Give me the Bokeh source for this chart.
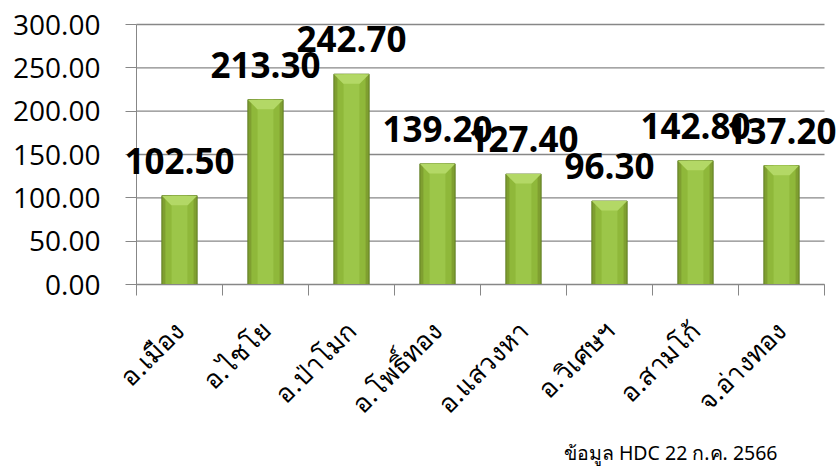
import math
import numpy as np
from bokeh.plotting import figure
from bokeh.models import (FixedTicker, NumeralTickFormatter, LabelSet, ColumnDataSource,
                          Label, Range1d)
from bokeh.core.properties import value
from bokeh.embed import file_html
from bokeh.resources import INLINE

districts = ["อ.เมือง", "อ.ไชโย", "อ.ป่าโมก", "อ.โพธิ์ทอง", "อ.แสวงหา", "อ.วิเศษฯ", "อ.สามโก้", "จ.อ่างทอง"]
values = [102.50, 213.30, 242.70, 139.20, 127.40, 96.30, 142.80, 137.20]
y_ticks = [0, 50, 100, 150, 200, 250, 300]
footnote = "ข้อมูล HDC 22 ก.ค. 2566"

n = len(districts)
centers = [i + 0.5 for i in range(n)]
labels = [f"{v:.2f}" for v in values]
y_max = y_ticks[-1]

# layout constants (pixels); the frame fills the whole canvas and the axes are pinned inside it
W, H = 839, 475
axis_px = 136          # x pixel of the value axis
cat_px = 86            # width of one category
top_px = 24            # y pixel of the top gridline
zero_px = 284          # y pixel of the zero line
ppu = (zero_px - top_px) / y_max

x_start = -axis_px / cat_px
x_end = (W - axis_px) / cat_px
y_start = -(H - zero_px) / ppu
y_end = y_max + top_px / ppu

p = figure(width=W, height=H, x_range=Range1d(x_start, x_end), y_range=Range1d(y_start, y_end),
           output_backend="svg", toolbar_location=None,
           min_border_left=0, min_border_right=0, min_border_top=0, min_border_bottom=0)
p.outline_line_color = None
p.background_fill_color = "white"
p.border_fill_color = "white"

grid_col = "#878787"

# y axis
p.yaxis.fixed_location = 0
p.yaxis.bounds = (0, y_max)
p.yaxis.ticker = FixedTicker(ticks=y_ticks)
p.yaxis.formatter = NumeralTickFormatter(format="0.00")
p.yaxis.major_label_text_font = "Open Sans"
p.yaxis.major_label_text_font_size = "28px"
p.yaxis.major_label_text_color = "black"
p.yaxis.axis_line_color = grid_col
p.yaxis.major_tick_line_color = grid_col
p.yaxis.major_tick_out = 11
p.yaxis.major_tick_in = 0
p.yaxis.minor_tick_line_color = None
p.yaxis.major_label_standoff = 25

# horizontal gridlines only across the category area
p.ygrid.visible = False
p.xgrid.visible = False
p.segment(x0=[0] * len(y_ticks), x1=[n] * len(y_ticks), y0=y_ticks, y1=y_ticks,
          line_color=grid_col, line_width=1.3, level="underlay")

# x axis
p.xaxis.fixed_location = 0
p.xaxis.bounds = (0, n)
p.xaxis.ticker = FixedTicker(ticks=centers, minor_ticks=list(range(n + 1)))
p.xaxis.major_label_overrides = {c: d for c, d in zip(centers, districts)}
p.xaxis.major_label_orientation = math.pi / 4
p.xaxis.major_label_text_font = "Noto Sans"
p.xaxis.major_label_text_font_size = "26px"
p.xaxis.major_label_text_color = "black"
p.xaxis.major_tick_line_color = None
p.xaxis.major_tick_out = 0
p.xaxis.major_tick_in = 0
p.xaxis.minor_tick_line_color = grid_col
p.xaxis.minor_tick_out = 11
p.xaxis.minor_tick_in = 0
p.xaxis.axis_line_color = grid_col
p.xaxis.major_label_standoff = 30

# bars (layered to imitate the bevelled gradient)
w = 0.41
p.vbar(x=centers, top=values, bottom=0, width=w, fill_color="#7f9f30", line_color="#5f7d22", line_width=1)
p.vbar(x=centers, top=values, bottom=0, width=w * 0.8, fill_color="#8fb83a", line_color=None)
p.vbar(x=centers, top=values, bottom=0, width=w * 0.45, fill_color="#9cc649", line_color=None)

bx, by = 0.11, 11.0
bev_xs = [[c - w / 2, c + w / 2, c + w / 2 - bx, c - w / 2 + bx] for c in centers]
bev_ys = [[v, v, v - by, v - by] for v in values]
p.patches(xs=bev_xs, ys=bev_ys, fill_color="#b3d866", line_color=None)

# data labels
src = ColumnDataSource(dict(x=centers, y=values, t=labels))
p.add_layout(LabelSet(x="x", y="y", text="t", source=src, text_align="center",
                      text_baseline="alphabetic", y_offset=22,
                      text_font=value("Open Sans"), text_font_style="bold",
                      text_font_size="35px", text_color="black"))

# footnote (right end near x = 777 px, baseline near y = 452 px)
p.add_layout(Label(x=(777 - axis_px) / cat_px, y=-(452 - zero_px) / ppu, text=footnote,
                   text_align="right", text_baseline="alphabetic",
                   text_font="Noto Sans", text_font_size="19.5px", text_color="black"))

open("out.html", "w").write(file_html(p, INLINE))
